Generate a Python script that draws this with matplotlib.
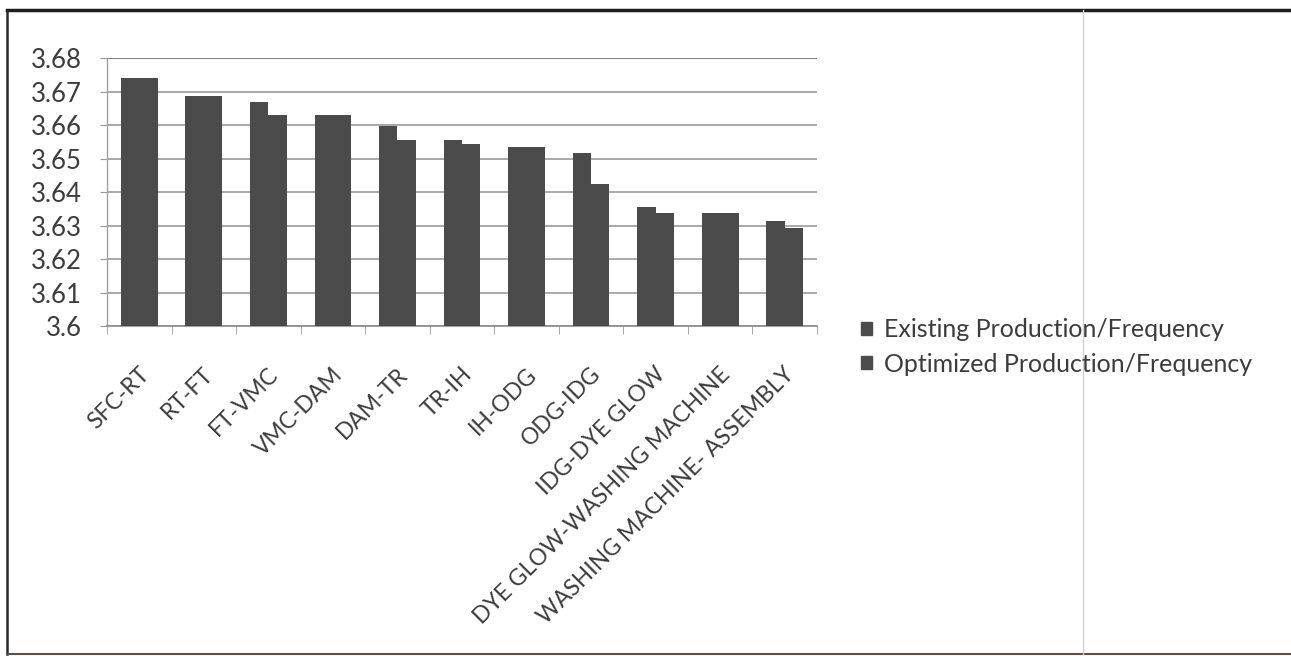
import matplotlib
matplotlib.use("Agg")
import matplotlib.pyplot as plt
import matplotlib.transforms as mtransforms
from matplotlib.lines import Line2D
from matplotlib.patches import Patch
import numpy as np

plt.rcParams['font.family'] = ['Lato', 'DejaVu Sans']

categories = ["SFC-RT", "RT-FT", "FT-VMC", "VMC-DAM", "DAM-TR", "TR-IH", "IH-ODG",
              "ODG-IDG", "IDG-DYE GLOW", "DYE GLOW-WASHING MACHINE",
              "WASHING MACHINE- ASSEMBLY"]
existing = [3.674, 3.6687, 3.6669, 3.6629, 3.6597, 3.6555, 3.6535, 3.6516, 3.6355, 3.6336, 3.6313]
optimized = [3.674, 3.6687, 3.6629, 3.6629, 3.6556, 3.6543, 3.6535, 3.6424, 3.6337, 3.6336, 3.6293]
series_names = ["Existing Production/Frequency", "Optimized Production/Frequency"]
y_ticks = [3.6, 3.61, 3.62, 3.63, 3.64, 3.65, 3.66, 3.67, 3.68]

W, H = 1291, 656
fig = plt.figure(figsize=(W / 100, H / 100), dpi=100)
fig.patch.set_facecolor("white")

ax = fig.add_axes([107 / W, 1 - 326 / H, 710 / W, 268 / H])

bar_color = "#4b4b4b"
text_color = "#3c3c3c"
x = np.arange(len(categories))
bw = 0.285
ax.bar(x - bw / 2, existing, width=bw, color=bar_color, zorder=3)
ax.bar(x + bw / 2, optimized, width=bw, color=bar_color, zorder=3)

ax.set_xlim(-0.5, len(categories) - 0.5)
ax.set_ylim(3.6, 3.68)
ax.set_yticks(y_ticks)
ax.set_yticklabels([f"{v:g}" for v in y_ticks], fontsize=18.5, color=text_color)
ax.yaxis.grid(True, color="#9a9a9a", linewidth=1.2, zorder=0)
ax.get_ygridlines()[-1].set_color("#6a6a6a")
ax.tick_params(axis="y", length=5, color="#9a9a9a", pad=13)

# category labels, ticks placed between groups
ax.set_xticks(x)
ax.set_xticklabels(categories, rotation=45, ha="right", va="top",
                   rotation_mode="anchor", fontsize=16.5, color=text_color)
ax.tick_params(axis="x", length=0, pad=27)
shift = mtransforms.ScaledTranslation(-1 / 100, 0, fig.dpi_scale_trans)
for lbl in ax.get_xticklabels():
    lbl.set_transform(lbl.get_transform() + shift)
ax.set_xticks(np.arange(-0.5, len(categories)), minor=True)
ax.tick_params(axis="x", which="minor", length=6, color="#9a9a9a")

for side in ("top", "right"):
    ax.spines[side].set_visible(False)
ax.spines["left"].set_color("#a0a0a0")
ax.spines["bottom"].set_color("#8a8a8a")
ax.spines["left"].set_linewidth(1.0)
ax.spines["bottom"].set_linewidth(1.2)

handles = [Patch(facecolor=bar_color, edgecolor=bar_color) for _ in series_names]
fig.legend(handles, series_names, loc="center left",
           bbox_to_anchor=(843 / W, 1 - 347 / H), frameon=False, fontsize=18,
           handlelength=0.45, handleheight=0.45, handletextpad=0.5,
           labelspacing=0.45, labelcolor=text_color, borderpad=0.2)

# page frame
fig.add_artist(Line2D([7 / W, 7 / W], [1 - 10 / H, 1 - 654 / H],
                      transform=fig.transFigure, color="#2a2a2a", linewidth=1.8))
fig.add_artist(Line2D([7 / W, 1.0], [1 - 10 / H, 1 - 10 / H],
                      transform=fig.transFigure, color="#1e1e1e", linewidth=2.5))
fig.add_artist(Line2D([7 / W, 1.0], [1 - 654 / H, 1 - 654 / H],
                      transform=fig.transFigure, color="#5a5048", linewidth=1.5))
fig.add_artist(Line2D([1083 / W, 1083 / W], [1 - 10 / H, 1 - 654 / H],
                      transform=fig.transFigure, color="#d6d0c8", linewidth=1.0))

fig.savefig("out.png", dpi=100, facecolor="white")
